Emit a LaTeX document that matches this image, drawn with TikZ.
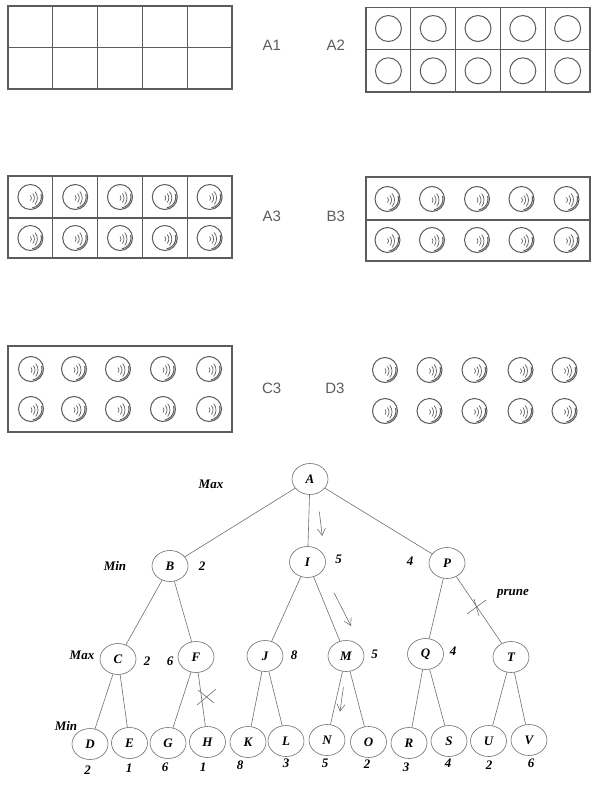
\documentclass[tikz,border=0pt]{standalone}
\usepackage{fontspec}
\setmainfont{Liberation Serif}
\setsansfont{Liberation Sans}
\usetikzlibrary{shapes.geometric,arrows.meta}
\definecolor{pencil}{HTML}{5C5C5C}
\definecolor{thin}{HTML}{6E6E6E}
\tikzset{
  box/.style={draw=pencil, line width=1.1pt},
  ring/.style={draw=pencil, line width=1pt},
  tag/.style={text=pencil, font=\sffamily\fontsize{15}{17}\selectfont},
  vert/.style={draw=thin, line width=0.6pt, ellipse, minimum width=36pt, minimum height=31pt,
    inner sep=0pt, font=\bfseries\itshape\fontsize{13}{15}\selectfont},
  edge/.style={draw=thin, line width=0.6pt},
  val/.style={font=\bfseries\itshape\fontsize{13}{15}\selectfont},
  hint/.style={draw=thin, line width=0.6pt, -{Straight Barb[length=7pt,width=8pt]}}
}
% a ball with its shine
\newcommand{\ball}[2]{%
  \draw[ring] (#1,#2) circle (12.5);
  \draw[ring] (#1,#2) ++(-15:11) arc[start angle=-15,end angle=80,radius=11];
  \draw[ring,line width=0.7pt] (#1-3,#2+1) ++(-40:4) arc[start angle=-40,end angle=40,radius=4];
  \draw[ring,line width=0.7pt] (#1-3,#2+1) ++(-40:7) arc[start angle=-40,end angle=40,radius=7];
  \draw[ring,line width=0.7pt] (#1-3,#2+1) ++(-40:10) arc[start angle=-40,end angle=40,radius=10];
}
\begin{document}
\begin{tikzpicture}[x=1pt,y=-1pt]
  \useasboundingbox (0,0) rectangle (600,800);
  % A1
  \draw[box] (8,6) rectangle (52.8,47.5); \draw[box] (52.8,6) rectangle (97.6,47.5);
  \draw[box] (97.6,6) rectangle (142.4,47.5); \draw[box] (142.4,6) rectangle (187.2,47.5);
  \draw[box] (187.2,6) rectangle (232,47.5);
  \draw[box] (8,47.5) rectangle (52.8,89); \draw[box] (52.8,47.5) rectangle (97.6,89);
  \draw[box] (97.6,47.5) rectangle (142.4,89); \draw[box] (142.4,47.5) rectangle (187.2,89);
  \draw[box] (187.2,47.5) rectangle (232,89);
  \node[tag] (tA1) at (271.7,45.5) {A1};
  \node[tag] (tA2) at (335.7,45.5) {A2};
  % A2
  \draw[box] (366,7.5) rectangle (410.8,49.5); \draw[ring] (388.4,28.5) circle (13);
  \draw[box] (410.8,7.5) rectangle (455.6,49.5); \draw[ring] (433.2,28.5) circle (13);
  \draw[box] (455.6,7.5) rectangle (500.4,49.5); \draw[ring] (478,28.5) circle (13);
  \draw[box] (500.4,7.5) rectangle (545.2,49.5); \draw[ring] (522.8,28.5) circle (13);
  \draw[box] (545.2,7.5) rectangle (590,49.5); \draw[ring] (567.6,28.5) circle (13);
  \draw[box] (366,49.5) rectangle (410.8,92); \draw[ring] (388.4,70.8) circle (13);
  \draw[box] (410.8,49.5) rectangle (455.6,92); \draw[ring] (433.2,70.8) circle (13);
  \draw[box] (455.6,49.5) rectangle (500.4,92); \draw[ring] (478,70.8) circle (13);
  \draw[box] (500.4,49.5) rectangle (545.2,92); \draw[ring] (522.8,70.8) circle (13);
  \draw[box] (545.2,49.5) rectangle (590,92); \draw[ring] (567.6,70.8) circle (13);
  % A3
  \draw[box] (8,176) rectangle (52.8,218); \ball{30.4}{197}
  \draw[box] (52.8,176) rectangle (97.6,218); \ball{75.2}{197}
  \draw[box] (97.6,176) rectangle (142.4,218); \ball{120}{197}
  \draw[box] (142.4,176) rectangle (187.2,218); \ball{164.8}{197}
  \draw[box] (187.2,176) rectangle (232,218); \ball{209.6}{197}
  \draw[box] (8,218) rectangle (52.8,258); \ball{30.4}{238}
  \draw[box] (52.8,218) rectangle (97.6,258); \ball{75.2}{238}
  \draw[box] (97.6,218) rectangle (142.4,258); \ball{120}{238}
  \draw[box] (142.4,218) rectangle (187.2,258); \ball{164.8}{238}
  \draw[box] (187.2,218) rectangle (232,258); \ball{209.6}{238}
  \node[tag] (tA3) at (271.7,216) {A3};
  \node[tag] (tB3) at (335.7,216) {B3};
  % B3
  \draw[box] (366,177) rectangle (590,220); \draw[box] (366,220) rectangle (590,261);
  \ball{387.5}{199} \ball{432}{199} \ball{477}{199} \ball{521.5}{199} \ball{566.5}{199}
  \ball{387.5}{240} \ball{432}{240} \ball{477}{240} \ball{521.5}{240} \ball{566.5}{240}
  % C3
  \draw[box] (8,346) rectangle (232,432);
  \ball{31}{369} \ball{74}{369} \ball{118}{369} \ball{163}{369} \ball{209}{369}
  \ball{31}{409} \ball{74}{409} \ball{118}{409} \ball{163}{409} \ball{209}{409}
  \node[tag] (tC3) at (271.7,388) {C3};
  \node[tag] (tD3) at (335,388) {D3};
  % D3
  \ball{385}{370} \ball{429.5}{370} \ball{474.5}{370} \ball{520.5}{370} \ball{564.5}{370}
  \ball{385}{411} \ball{429.5}{411} \ball{474.5}{411} \ball{520.5}{411} \ball{564.5}{411}

  % game tree
  \node[vert] (A) at (310,479) {A};
  \node[vert] (B) at (170,566) {B};
  \node[vert] (I) at (307.5,562) {I};
  \node[vert] (P) at (447,563) {P};
  \node[vert] (C) at (118,659) {C};
  \node[vert] (F) at (196,657) {F};
  \node[vert] (J) at (265,656) {J};
  \node[vert] (M) at (346,656) {M};
  \node[vert] (Q) at (425.5,654) {Q};
  \node[vert] (T) at (511,657) {T};
  \node[vert] (D) at (90,744) {D};
  \node[vert] (E) at (129.5,743) {E};
  \node[vert] (G) at (168,743) {G};
  \node[vert] (H) at (207.5,742) {H};
  \node[vert] (K) at (248,742) {K};
  \node[vert] (L) at (286,741) {L};
  \node[vert] (N) at (327,740) {N};
  \node[vert] (O) at (368.5,742) {O};
  \node[vert] (R) at (409,743) {R};
  \node[vert] (S) at (449,741) {S};
  \node[vert] (U) at (488.5,741) {U};
  \node[vert] (V) at (529,740) {V};

  \draw[edge] (A) -- (B); \draw[edge] (A) -- (I); \draw[edge] (A) -- (P);
  \draw[edge] (B) -- (C); \draw[edge] (B) -- (F);
  \draw[edge] (I) -- (J); \draw[edge] (I) -- (M);
  \draw[edge] (P) -- (Q); \draw[edge] (P) -- (T);
  \draw[edge] (C) -- (D); \draw[edge] (C) -- (E);
  \draw[edge] (F) -- (G); \draw[edge] (F) -- (H);
  \draw[edge] (J) -- (K); \draw[edge] (J) -- (L);
  \draw[edge] (M) -- (N); \draw[edge] (M) -- (O);
  \draw[edge] (Q) -- (R); \draw[edge] (Q) -- (S);
  \draw[edge] (T) -- (U); \draw[edge] (T) -- (V);

  % levels and values
  \node[val] (maxA) at (211,484) {Max};
  \node[val] (minB) at (115,566) {Min};
  \node[val] (maxC) at (82,655) {Max};
  \node[val] (minD) at (66,726) {Min};
  \node[val] (vB) at (202,566) {2};
  \node[val] (vI) at (338.5,559) {5};
  \node[val] (vP) at (410,561) {4};
  \node[val] (prune) at (513,594) {prune};
  \node[val] (vC) at (147,661) {2};
  \node[val] (vF) at (170,661) {6};
  \node[val] (vJ) at (294,655) {8};
  \node[val] (vM) at (374.5,654) {5};
  \node[val] (vQ) at (453,651) {4};
  \node[val] (vD) at (87.5,770) {2};
  \node[val] (vE) at (129,768) {1};
  \node[val] (vG) at (165,767) {6};
  \node[val] (vH) at (203,767) {1};
  \node[val] (vK) at (240,765) {8};
  \node[val] (vL) at (286,763) {3};
  \node[val] (vN) at (325,763) {5};
  \node[val] (vO) at (367,764) {2};
  \node[val] (vR) at (406,767) {3};
  \node[val] (vS) at (448,763) {4};
  \node[val] (vU) at (489,765) {2};
  \node[val] (vV) at (531,763) {6};

  % search hints
  \coordinate (h1s) at (319.3,511.7); \coordinate (h1e) at (322.3,536);
  \coordinate (h2s) at (334,592.7); \coordinate (h2e) at (351,626);
  \coordinate (h3s) at (343.4,687); \coordinate (h3e) at (340,711.7);
  \draw[hint] (h1s) -- (h1e);
  \draw[hint] (h2s) -- (h2e);
  \draw[hint] (h3s) -- (h3e);

  % cuts
  \draw[edge] (467,614) -- (486,600); \draw[edge] (474,599) -- (479,616);
  \draw[edge] (197,705) -- (216,689); \draw[edge] (198,690) -- (214,703);
\end{tikzpicture}
\end{document}
